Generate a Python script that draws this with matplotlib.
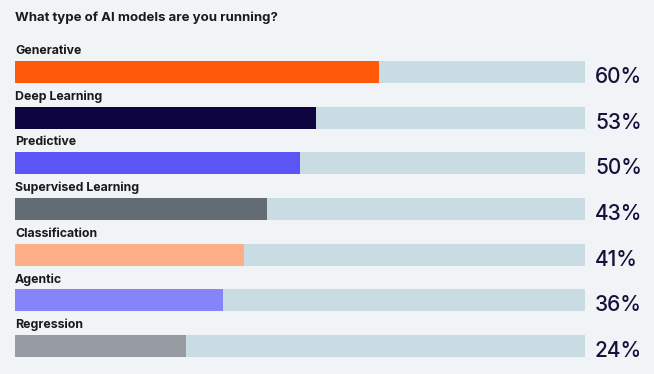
import matplotlib
matplotlib.use("Agg")
import matplotlib.pyplot as plt

plt.rcParams["font.family"] = ["Inter", "DejaVu Sans"]

TITLE = "What type of AI models are you running?"
CATEGORIES = ["Generative", "Deep Learning", "Predictive", "Supervised Learning",
              "Classification", "Agentic", "Regression"]
PERCENT_LABELS = [60, 53, 50, 43, 41, 36, 24]
# drawn bar lengths as they appear in the picture (share of the full track)
BAR_LENGTHS = [63.9, 52.8, 50.0, 44.2, 40.2, 36.5, 30.0]
COLORS = ["#FF5A0A", "#0D0440", "#5B55F5", "#636C74", "#FFAF87", "#8585F9", "#979CA3"]

BG = "#F0F4F7"
TRACK = "#C9DBE3"
TEXT = "#1A1A1A"
PCT_TEXT = "#1A0F3C"

W, H = 654, 374
fig = plt.figure(figsize=(W / 100, H / 100), dpi=100, facecolor=BG)
ax = fig.add_axes([0, 0, 1, 1])
ax.set_facecolor(BG)

px_x = 570 / 100.0          # pixels per percent on the track
px_y = (346 - 72) / 6.0     # pixels per row
ax.set_xlim(-15 / px_x, 100 + (W - 585) / px_x)
ax.set_ylim((H - 72) / px_y, -72 / px_y)
ax.axis("off")

rows = range(len(CATEGORIES))
bar_h = 22 / px_y
ax.barh(rows, [100] * len(CATEGORIES), height=bar_h, color=TRACK, left=0)
ax.barh(rows, BAR_LENGTHS, height=bar_h, color=COLORS, left=0)

for i, (name, pct) in enumerate(zip(CATEGORIES, PERCENT_LABELS)):
    ax.text(0, i - 21 / px_y, name, ha="left", va="center",
            fontsize=8.9, fontweight="bold", color=TEXT)
    ax.text(100 + 10 / px_x, i + 5 / px_y, f"{pct}%", ha="left", va="center",
            fontsize=15, fontweight="medium", color=PCT_TEXT)

ax.text(0, -54 / px_y, TITLE, ha="left", va="center",
        fontsize=9.5, fontweight="bold", color=TEXT)

fig.savefig("out.png", dpi=100, facecolor=BG)
